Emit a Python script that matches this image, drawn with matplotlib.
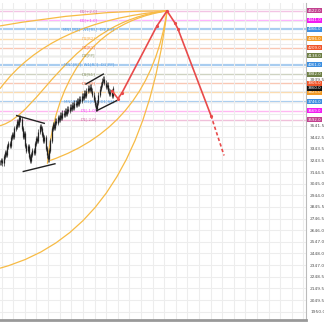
import matplotlib
matplotlib.use("Agg")
import matplotlib.pyplot as plt
from matplotlib.path import Path
from matplotlib.patches import PathPatch
import matplotlib.transforms as mtransforms
import numpy as np

# daily closes (bar index = position)
closes = [3226, 3243, 3218, 3277, 3311, 3294, 3362, 3388, 3371, 3439,
          3465, 3448, 3516, 3533, 3576, 3550, 3610, 3593, 3516, 3448,
          3473, 3371, 3328, 3362, 3277, 3243, 3294, 3328, 3311, 3388,
          3431, 3414, 3490, 3533, 3516, 3465, 3414, 3439, 3345, 3286,
          3252, 3328, 3414, 3516, 3550, 3524, 3584, 3567, 3610, 3593,
          3635, 3610, 3652, 3635, 3669, 3644, 3686, 3669, 3703, 3686,
          3720, 3695, 3737, 3720, 3755, 3729, 3772, 3755, 3797, 3780,
          3823, 3797, 3840, 3865, 3848, 3874, 3840, 3806, 3763, 3720,
          3686, 3737, 3806, 3857, 3891, 3925, 3942, 3908, 3874, 3891,
          3840, 3814, 3831, 3797, 3860]
wick = 22

# pivot / level lines: price, line colour, box colour, label
level_prices = [4522, 4441, 4366, 4286, 4209, 4138, 4061, 3982, 3905, 3825, 3746, 3669, 3592]
level_line_colors = ["#f3c4e4", "#ffb0ff", "#a9cdf0", "#fcdcae", "#f9c7b4", "#cfd3c2",
                     "#a9cdf0", "#cfd3c2", "#f9c7b4", "#fcdcae", "#a9cdf0", "#ffb8f2", "#f0c0da"]
level_box_colors = ["#c2418f", "#f21cf2", "#3d8fe0", "#f39a25", "#f0552a", "#6e7f45",
                    "#3d8fe0", "#6e7f45", "#f0552a", "#f39a25", "#3d8fe0", "#f21cf2", "#c2418f"]
level_labels = ["D1[+2.0]", "D1[+1.0]", "MN1[R2]  W1[R3]  D1[R3]", "D1[R2]", "D1[R1]", "D1[PP]",
                "MN1[R1]  W1[R2]  D1[PP]", "D1[S1]", "D1[S2]", "D1[S3]",
                "MN1[PP]  W1[R1]  D1[S3]", "D1[-1.0]", "D1[-2.0]"]

# right axis ticks
tick_values = [1950.0, 2049.5, 2149.5, 2248.5, 2347.0, 2448.0, 2547.0, 2646.0, 2746.5,
               2845.5, 2944.0, 3045.0, 3144.5, 3243.5, 3343.5, 3442.5, 3541.5, 3641.0,
               3740.5, 3840.0, 3939.5, 4039.0, 4138.5, 4238.0, 4337.5, 4437.0, 4536.5]

# trend lines (x0, p0, x1, p1)
trend_lines = [(13.9, 3627, 36.9, 3561),
               (19.4, 3149, 45.8, 3215),
               (71.7, 3897, 86.1, 3982),
               (80.6, 3669, 97.2, 3755)]

# projected path
proj_x = [93.3, 98.3, 101.7, 130.8, 139.2, 145.8, 148.3, 175.8]
proj_p = [3840, 3772, 3823, 4394, 4522, 4419, 4368, 3627]
proj_dash_x = [175.8, 186.7]
proj_dash_p = [3627, 3286]

# arcs converging on the projected top: control points (x, price)
arcs = [
    [(0, 4394), (75, 4530), (139.2, 4522)],
    [(0, 3857), (41.7, 4436), (139.2, 4522)],
    [(0, 3541), (33.3, 3627), (58.3, 4436), (139.2, 4522)],
    [(39.5, 3215), (43.5, 3660), (60, 4400), (139.2, 4522)],
    [(41.7, 3243), (125, 3541), (139.2, 4522)],
    [(0, 2322), (116.7, 2646), (139.2, 4522)],
]

fig = plt.figure(figsize=(3.24, 3.24), dpi=100)
ax = fig.add_axes([0, 4 / 324, 306 / 324, 317 / 324])
ax.set_xlim(0, 255)
ax.set_ylim(1879, 4590)

ax.set_xticks(np.arange(1.4, 255, 9.67))
ax.set_yticks(tick_values)
ax.grid(True, color="#ededed", lw=0.8, zorder=0)
ax.tick_params(axis="x", length=0, labelbottom=False)
ax.yaxis.tick_right()
ax.tick_params(axis="y", length=0, labelsize=3.2, labelcolor="#555555", pad=3)
box_prices = level_prices + [closes[-1]]
ax.set_yticklabels(["" if min(abs(v - b) for b in box_prices) < 30 else f"{v:.1f}"
                    for v in tick_values])
for s in ["left", "top"]:
    ax.spines[s].set_visible(False)
ax.spines["right"].set_color("#bbbbbb")
ax.spines["right"].set_linewidth(0.8)
ax.spines["bottom"].set_color("#999999")
ax.spines["bottom"].set_linewidth(2)

# levels
for p, lc, bc, lab in zip(level_prices, level_line_colors, level_box_colors, level_labels):
    lw = 1.6 if lab.startswith("MN1") else 1.0
    ax.axhline(p, color=lc, lw=lw, zorder=1)
    ax.text(74, p, lab, fontsize=2.8, color=bc, ha="center", va="center", zorder=3, alpha=0.75)

trans = mtransforms.blended_transform_factory(ax.transAxes, ax.transData)
box_colors = level_box_colors + ["#111111"]
for p, bc in zip(box_prices, box_colors):
    ax.text(1.006, p, f"{p:.1f}", transform=trans, fontsize=2.8, color="white",
            ha="left", va="center", zorder=5, clip_on=False,
            bbox=dict(boxstyle="square,pad=0.12", fc=bc, ec="none"))

# arcs
for pts in arcs:
    if len(pts) == 3:
        codes = [Path.MOVETO, Path.CURVE3, Path.CURVE3]
    else:
        codes = [Path.MOVETO, Path.CURVE4, Path.CURVE4, Path.CURVE4]
    ax.add_patch(PathPatch(Path(pts, codes), fc="none", ec="#f7bb45", lw=0.9, zorder=2))

# candles
opens = [closes[0]] + closes[:-1]
for i, (o, c) in enumerate(zip(opens, closes)):
    ax.vlines(i, min(o, c) - wick, max(o, c) + wick, color="#333333", lw=0.5, zorder=4)
    ax.vlines(i, min(o, c), max(o, c) + 1, color="#222222", lw=0.9, zorder=4)

for x0, p0, x1, p1 in trend_lines:
    ax.plot([x0, x1], [p0, p1], color="#222222", lw=1.0, zorder=4)

ax.plot(proj_x, proj_p, color="#e84a4a", lw=1.2, marker="o", ms=1.3, zorder=5)
ax.plot(proj_dash_x, proj_dash_p, color="#e84a4a", lw=1.2, ls=(0, (2, 1.5)), zorder=5)

fig.savefig("out.png", dpi=100)
